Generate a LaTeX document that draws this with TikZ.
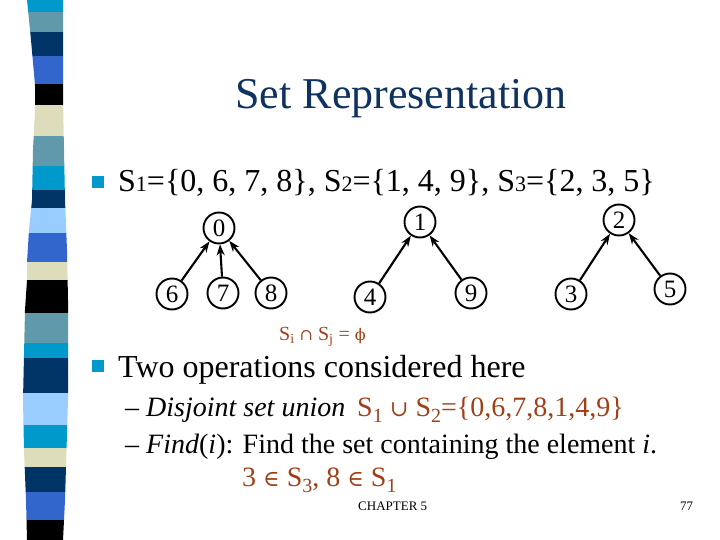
\documentclass[tikz,border=0pt]{standalone}
\usepackage{fontspec}
\setmainfont{Liberation Serif}
\newfontfamily\symf{DejaVu Serif}
\usetikzlibrary{arrows.meta}
\definecolor{scyan}{RGB}{0,153,204}
\definecolor{ssteel}{RGB}{96,153,170}
\definecolor{snavy}{RGB}{0,51,102}
\definecolor{sroyal}{RGB}{51,102,204}
\definecolor{sbeige}{RGB}{221,221,187}
\definecolor{slight}{RGB}{153,204,255}
\definecolor{titlecol}{RGB}{15,50,95}
\definecolor{brown}{RGB}{160,64,24}
\tikzset{
  txt/.style={inner sep=0pt, anchor=base west},
  vert/.style={circle, draw, line width=1.9pt, minimum size=31pt, inner sep=0pt, font=\fontsize{25}{25}\selectfont},
  edge/.style={line width=2.1pt, -{Stealth[length=11pt,width=8pt]}},
  bullet/.style={fill=scyan, minimum size=12pt, inner sep=0pt},
}
\newcommand{\sy}[1]{{\symf\scalebox{0.8}{#1}}}
\newcommand{\lsub}[1]{\raisebox{-0.22em}{\fontsize{20}{20}\selectfont #1}}
\begin{document}
\begin{tikzpicture}[x=1pt,y=-1pt]
\useasboundingbox (0,0) rectangle (720,540);
% left stripe
\begin{scope}
\clip (27,0) -- (31,40) -- (35,85) -- (35,110) -- (33,150) -- (32,200) -- (29,230) -- (27,262) -- (27,280) -- (25,310) -- (23,400) -- (24,450) -- (26,500) -- (27,540)
  -- (63,540) -- (65,500) -- (68,400) -- (68,300) -- (67,250) -- (65,200) -- (63,100) -- (63,0) -- cycle;
\foreach \a/\b/\c in {0/12/scyan,12/32/ssteel,32/56/snavy,56/84/sroyal,84/105/black,105/136/sbeige,136/166/ssteel,166/190/scyan,190/208/snavy,208/233/slight,233/262/sroyal,262/280/sbeige,280/313/black,313/343/ssteel,343/358/scyan,358/393/snavy,393/425/slight,425/448/scyan,448/467/sbeige,467/492/snavy,492/520/sroyal,520/540/black}
  \fill[\c] (0,\a) rectangle (80,\b);
\end{scope}
% title
\node[inner sep=0pt, anchor=base, text=titlecol, font=\fontsize{44}{44}\selectfont] (title) at (401,109) {Set Representation};
% bullets
\node[bullet] (b1) at (98,182) {};
\node[bullet] (b2) at (98,366) {};
\node[txt, font=\fontsize{32}{32}\selectfont] (l1) at (118,192) {S{\fontsize{22}{22}\selectfont 1}=\{0, 6, 7, 8\}, S{\fontsize{22}{22}\selectfont 2}=\{1, 4, 9\}, S{\fontsize{22}{22}\selectfont 3}=\{2, 3, 5\}};
% trees
\node[vert] (n0) at (219,228) {0};
\node[vert] (n6) at (172,294) {6};
\node[vert] (n7) at (223,293) {7};
\node[vert] (n8) at (271,293) {8};
\node[vert] (n1) at (420,222) {1};
\node[vert] (n4) at (370,297) {4};
\node[vert] (n9) at (471,293) {9};
\node[vert] (n2) at (619,220) {2};
\node[vert] (n3) at (571,294) {3};
\node[vert] (n5) at (670,289) {5};
\draw[edge] (n6) -- (n0);
\draw[edge] (n7) -- (n0);
\draw[edge] (n8) -- (n0);
\draw[edge] (n4) -- (n1);
\draw[edge] (n9) -- (n1);
\draw[edge] (n3) -- (n2);
\draw[edge] (n5) -- (n2);
% disjoint label
\node[txt, text=brown, font=\fontsize{20}{20}\selectfont] (dis) at (279,340) {S\textsubscript{i} \sy{∩} S\textsubscript{j} = \sy{ϕ}};
\node[txt, font=\fontsize{32}{32}\selectfont] (l2) at (118,377) {Two operations considered here};
\node[txt, font=\fontsize{28}{28}\selectfont] (s1) at (125,416) {– \textit{Disjoint set union}};
\node[txt, text=brown, font=\fontsize{28}{28}\selectfont] (f1) at (357,416) {S\lsub{1} \sy{∪} S\lsub{2}=\{0,6,7,8,1,4,9\}};
\node[txt, font=\fontsize{28}{28}\selectfont] (s2) at (125,453) {– \textit{Find}(\textit{i}): Find the set containing the element \textit{i}.};
\node[txt, text=brown, font=\fontsize{28}{28}\selectfont] (f2) at (242,486) {3 \sy{∈} S\lsub{3}, 8 \sy{∈} S\lsub{1}};
% footer
\node[txt, font=\fontsize{13}{13}\selectfont] (ch) at (358,510) {CHAPTER 5};
\node[txt, font=\fontsize{13}{13}\selectfont] (pg) at (680,510) {77};
\end{tikzpicture}
\end{document}
